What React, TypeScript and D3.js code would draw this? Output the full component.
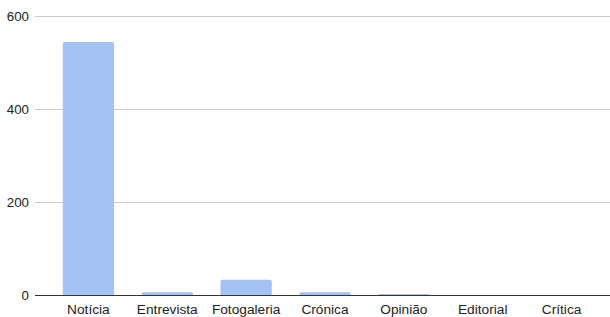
import React from "react";
import * as d3 from "d3";

const categories = ["Notícia", "Entrevista", "Fotogaleria", "Crónica", "Opinião", "Editorial", "Crítica"];
const values = [544, 7, 34, 7, 3, 0, 0];
const yTicks = [0, 200, 400, 600];

export default function App() {
  const W = 610, H = 317;
  const gridLeft = 35, gridRight = 610;
  const x = d3.scaleBand<string>().domain(categories).range([49, 601]).paddingInner(0.35).paddingOuter(0.175);
  const y = d3.scaleLinear().domain([0, 600]).range([295.5, 16]);
  const font = "Arial, 'Liberation Sans', sans-serif";
  return (
    <svg width={W} height={H} style={{ position: "absolute", left: 0, top: 0 }}>
      <rect width={W} height={H} fill="#fff" />
      {yTicks.map((t) => (
        <g key={t}>
          {t !== 0 && <line x1={gridLeft} x2={gridRight} y1={Math.round(y(t)) + 0.5} y2={Math.round(y(t)) + 0.5} stroke="#cccccc" />}
          <text x={29} y={y(t)} dy="0.35em" textAnchor="end" fontFamily={font} fontSize={13.3} fill="#222">{t}</text>
        </g>
      ))}
      {categories.map((c, i) => {
        const h = y(0) - y(values[i]);
        if (h <= 0) return null;
        const bx = x(c)!, bw = x.bandwidth();
        const r = Math.min(2, h / 2);
        const top = y(values[i]);
        const bottom = y(0);
        const p = `M${bx},${bottom}V${top + r}Q${bx},${top} ${bx + r},${top}H${bx + bw - r}Q${bx + bw},${top} ${bx + bw},${top + r}V${bottom}Z`;
        return <path key={c} d={p} fill="#a4c2f4" />;
      })}
      <line x1={gridLeft} x2={gridRight} y1={295.5} y2={295.5} stroke="#333" />
      {categories.map((c) => (
        <text key={c} x={x(c)! + x.bandwidth() / 2} y={309} dy="0.35em" textAnchor="middle" fontFamily={font} fontSize={13.7} fill="#222">{c}</text>
      ))}
    </svg>
  );
}
